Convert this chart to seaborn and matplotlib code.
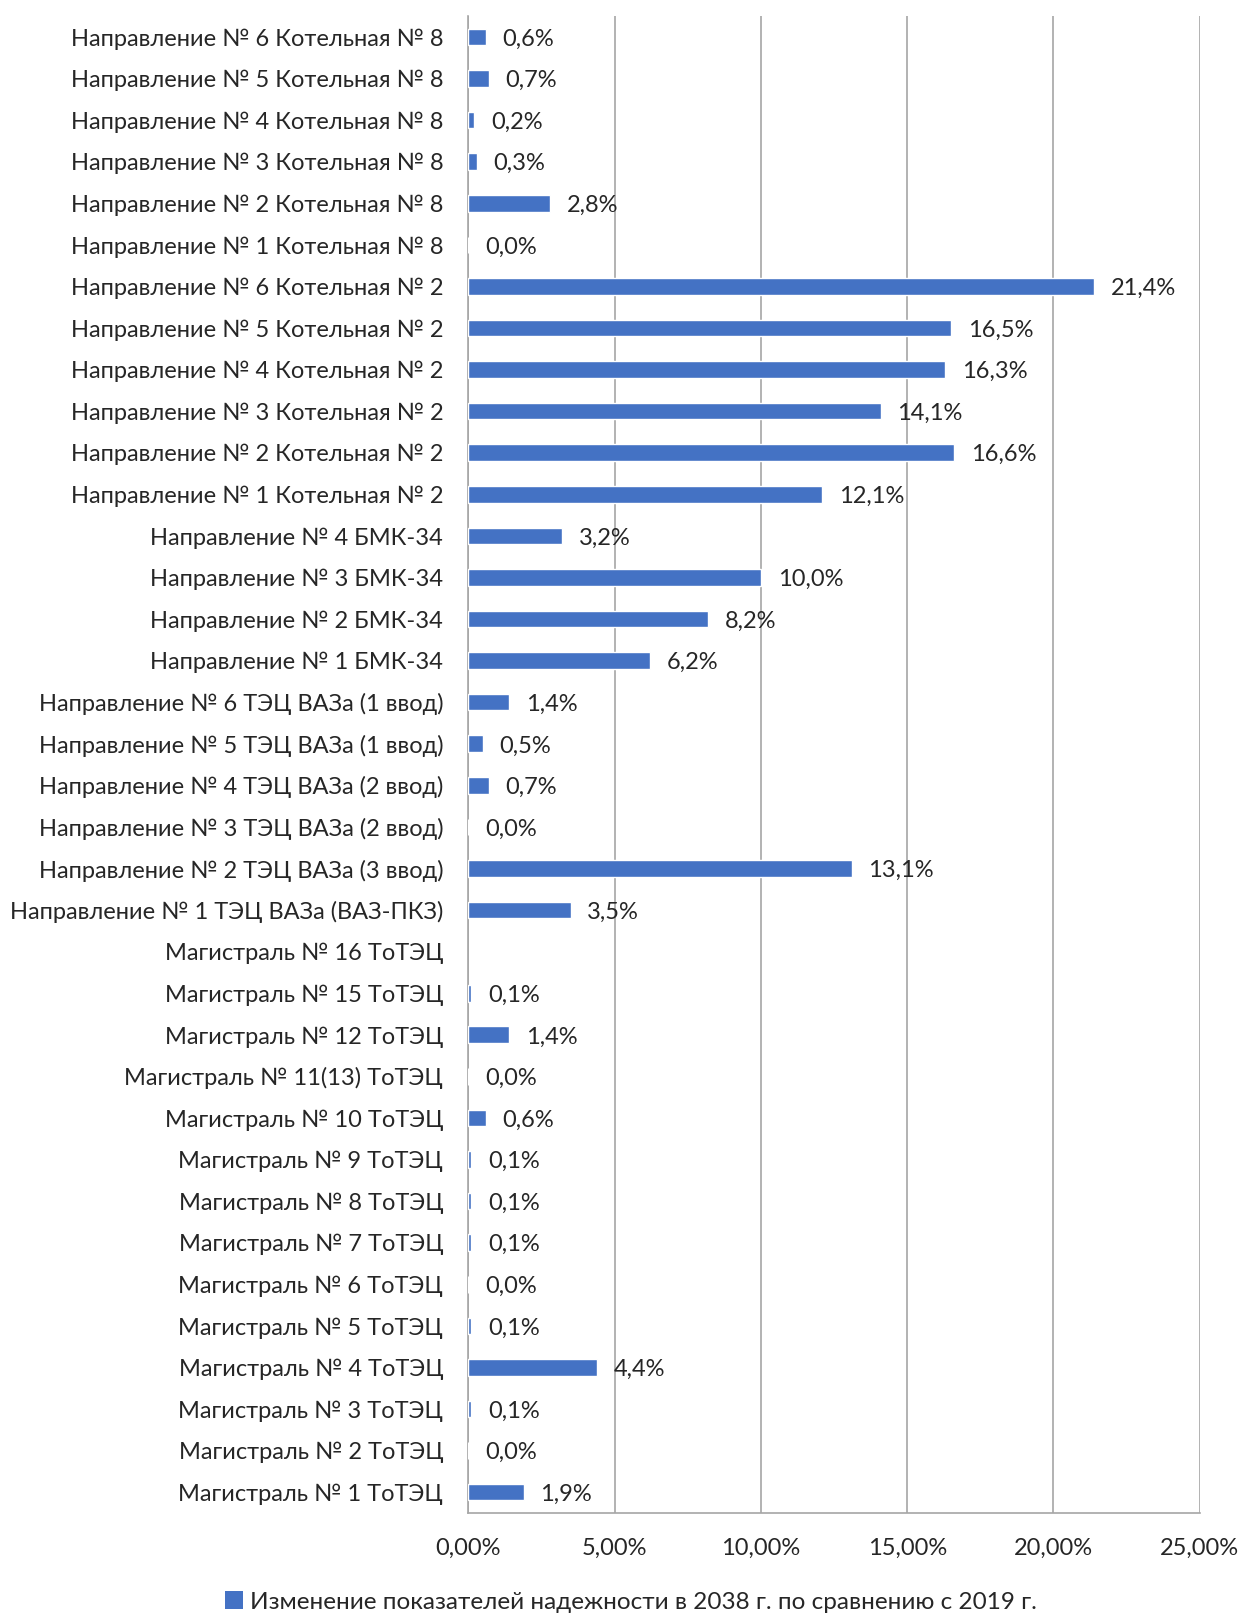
import numpy as np
import pandas as pd
import seaborn as sns
import matplotlib.pyplot as plt
from matplotlib.patches import Patch
from matplotlib.ticker import FuncFormatter, FixedLocator

# categories, top to bottom as they appear on the chart
labels = [
    "Направление № 6 Котельная № 8",
    "Направление № 5 Котельная № 8",
    "Направление № 4 Котельная № 8",
    "Направление № 3 Котельная № 8",
    "Направление № 2 Котельная № 8",
    "Направление № 1 Котельная № 8",
    "Направление № 6 Котельная № 2",
    "Направление № 5 Котельная № 2",
    "Направление № 4 Котельная № 2",
    "Направление № 3 Котельная № 2",
    "Направление № 2 Котельная № 2",
    "Направление № 1 Котельная № 2",
    "Направление № 4 БМК-34",
    "Направление № 3 БМК-34",
    "Направление № 2 БМК-34",
    "Направление № 1 БМК-34",
    "Направление № 6 ТЭЦ ВАЗа (1 ввод)",
    "Направление № 5 ТЭЦ ВАЗа (1 ввод)",
    "Направление № 4 ТЭЦ ВАЗа (2 ввод)",
    "Направление № 3 ТЭЦ ВАЗа (2 ввод)",
    "Направление № 2 ТЭЦ ВАЗа (3 ввод)",
    "Направление № 1 ТЭЦ ВАЗа (ВАЗ-ПКЗ)",
    "Магистраль № 16 ТоТЭЦ",
    "Магистраль № 15 ТоТЭЦ",
    "Магистраль № 12 ТоТЭЦ",
    "Магистраль № 11(13) ТоТЭЦ",
    "Магистраль № 10 ТоТЭЦ",
    "Магистраль № 9 ТоТЭЦ",
    "Магистраль № 8 ТоТЭЦ",
    "Магистраль № 7 ТоТЭЦ",
    "Магистраль № 6 ТоТЭЦ",
    "Магистраль № 5 ТоТЭЦ",
    "Магистраль № 4 ТоТЭЦ",
    "Магистраль № 3 ТоТЭЦ",
    "Магистраль № 2 ТоТЭЦ",
    "Магистраль № 1 ТоТЭЦ",
]

# change in reliability, % (None = no value shown)
values = [
    0.6, 0.7, 0.2, 0.3, 2.8, 0.0,
    21.4, 16.5, 16.3, 14.1, 16.6, 12.1,
    3.2, 10.0, 8.2, 6.2,
    1.4, 0.5, 0.7, 0.0, 13.1, 3.5,
    None, 0.1, 1.4, 0.0, 0.6, 0.1, 0.1, 0.1, 0.0, 0.1, 4.4, 0.1, 0.0, 1.9,
]

x_ticks = [0, 5, 10, 15, 20, 25]
legend_label = "Изменение показателей надежности в 2038 г. по сравнению с 2019 г."

bar_color = "#4472C4"
grid_color = "#A6A6A6"

df = pd.DataFrame({"label": labels, "value": [np.nan if v is None else v for v in values]})

sns.set_style("white")
plt.rcParams["font.family"] = ["Lato", "DejaVu Sans"]

fig = plt.figure(figsize=(12.42, 16.14), dpi=100)
ax = fig.add_axes([0.377, 0.0626, 0.589, 0.9274])

sns.barplot(data=df, y="label", x="value", order=labels, orient="h",
            color=bar_color, width=0.4, saturation=1, errorbar=None, ax=ax, zorder=3)

ax.set_xlim(0, 25)
ax.set_ylim(len(labels) - 0.5, -0.5)
ax.set_xlabel("")
ax.set_ylabel("")

ax.xaxis.set_major_locator(FixedLocator(x_ticks))
ax.xaxis.set_major_formatter(FuncFormatter(lambda v, p: f"{v:.2f}".replace(".", ",") + "%"))
ax.grid(axis="x", color=grid_color, linewidth=1.2, zorder=0)
ax.grid(axis="y", visible=False)

for s in ["top", "right"]:
    ax.spines[s].set_visible(False)
for s in ["left", "bottom"]:
    ax.spines[s].set_color(grid_color)
    ax.spines[s].set_linewidth(1.2)

ax.tick_params(axis="x", length=8, width=1.2, color=grid_color, labelsize=17, pad=10)
ax.tick_params(axis="y", which="major", length=0, labelsize=17, pad=18)
ax.set_yticks(np.arange(len(labels) + 1) - 0.5, minor=True)
ax.tick_params(axis="y", which="minor", length=8, width=1.2, color=grid_color)

for i, v in enumerate(values):
    if v is None:
        continue
    ax.annotate(f"{v:.1f}".replace(".", ",") + "%", xy=(v, i), xytext=(12, -1.5),
                textcoords="offset points", va="center", ha="left", fontsize=17)

handle = Patch(facecolor=bar_color, edgecolor="none")
fig.legend([handle], [legend_label], loc="center", bbox_to_anchor=(0.508, 0.0075),
           frameon=False, fontsize=17.5, handlelength=0.75, handleheight=0.75, handletextpad=0.3)

fig.savefig("out.png", dpi=100)
